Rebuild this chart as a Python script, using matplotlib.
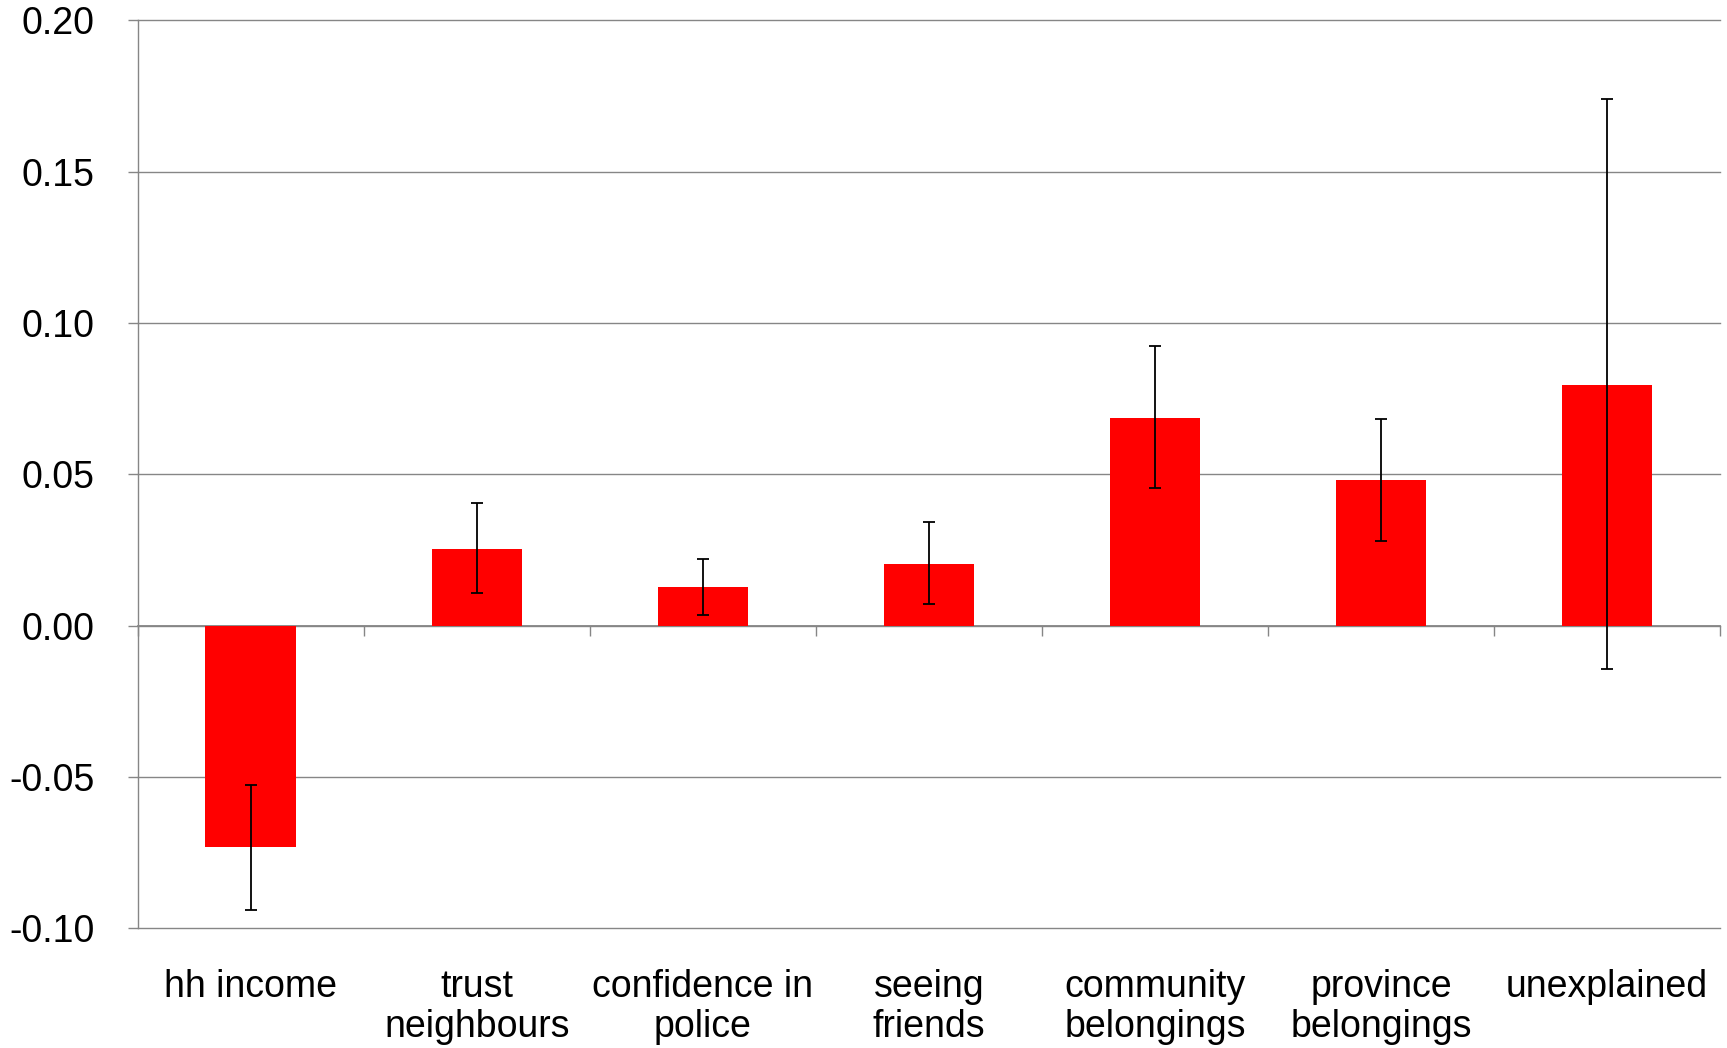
import numpy as np
import matplotlib.pyplot as plt

# Values
categories = ['hh income', 'trust\nneighbours', 'confidence in\npolice', 'seeing\nfriends',
              'community\nbelongings', 'province\nbelongings', 'unexplained']
values = [-0.0731, 0.0255, 0.0127, 0.0204, 0.0687, 0.0480, 0.0796]
ci_low = [-0.0938, 0.0109, 0.0036, 0.0073, 0.0455, 0.0280, -0.0142]
ci_high = [-0.0527, 0.0404, 0.0222, 0.0342, 0.0924, 0.0684, 0.1742]
y_ticks = [-0.10, -0.05, 0.00, 0.05, 0.10, 0.15, 0.20]

plt.rcParams['font.family'] = ['Liberation Sans', 'DejaVu Sans']
grey = '#868686'

fig = plt.figure(figsize=(17.27, 10.48), dpi=100)
ax = fig.add_axes([0.0797, 0.1142, 0.9163, 0.8663])

x = np.arange(len(categories))
vals = np.array(values)
err = [vals - np.array(ci_low), np.array(ci_high) - vals]

ax.bar(x, vals, width=0.4, color='#ff0000', zorder=2)
ax.errorbar(x, vals, yerr=err, fmt='none', ecolor='black', elinewidth=1.3,
            capsize=4, capthick=1.3, zorder=4)

ax.set_xlim(-0.5, len(categories) - 0.5)
ax.set_ylim(y_ticks[0], y_ticks[-1])
ax.set_yticks(y_ticks)
ax.set_yticklabels(['%.2f' % t for t in y_ticks])
ax.yaxis.grid(True, color=grey, linewidth=1.0, zorder=0)
ax.set_axisbelow(True)
for gl in ax.get_ygridlines():
    gl.set_clip_on(False)

for s in ['top', 'right', 'bottom']:
    ax.spines[s].set_visible(False)
ax.spines['left'].set_color(grey)
ax.spines['left'].set_linewidth(1.0)

ax.tick_params(axis='y', direction='out', length=7, width=1.0, color=grey,
               labelsize=27, pad=24)
ax.set_xticks(x)
ax.set_xticklabels(categories, fontsize=27, linespacing=1.15)
ax.tick_params(axis='x', length=0, pad=29)

# zero line with category boundary ticks
zero_pos = (0 - y_ticks[0]) / (y_ticks[-1] - y_ticks[0])
sec = ax.secondary_xaxis(zero_pos)
sec.set_xticks(np.arange(len(categories) + 1) - 0.5)
sec.set_xticklabels([])
sec.tick_params(direction='out', length=7, width=1.0, color=grey)
sec.spines['bottom'].set_color(grey)
sec.spines['bottom'].set_linewidth(1.3)

fig.savefig('out.png', dpi=100)
